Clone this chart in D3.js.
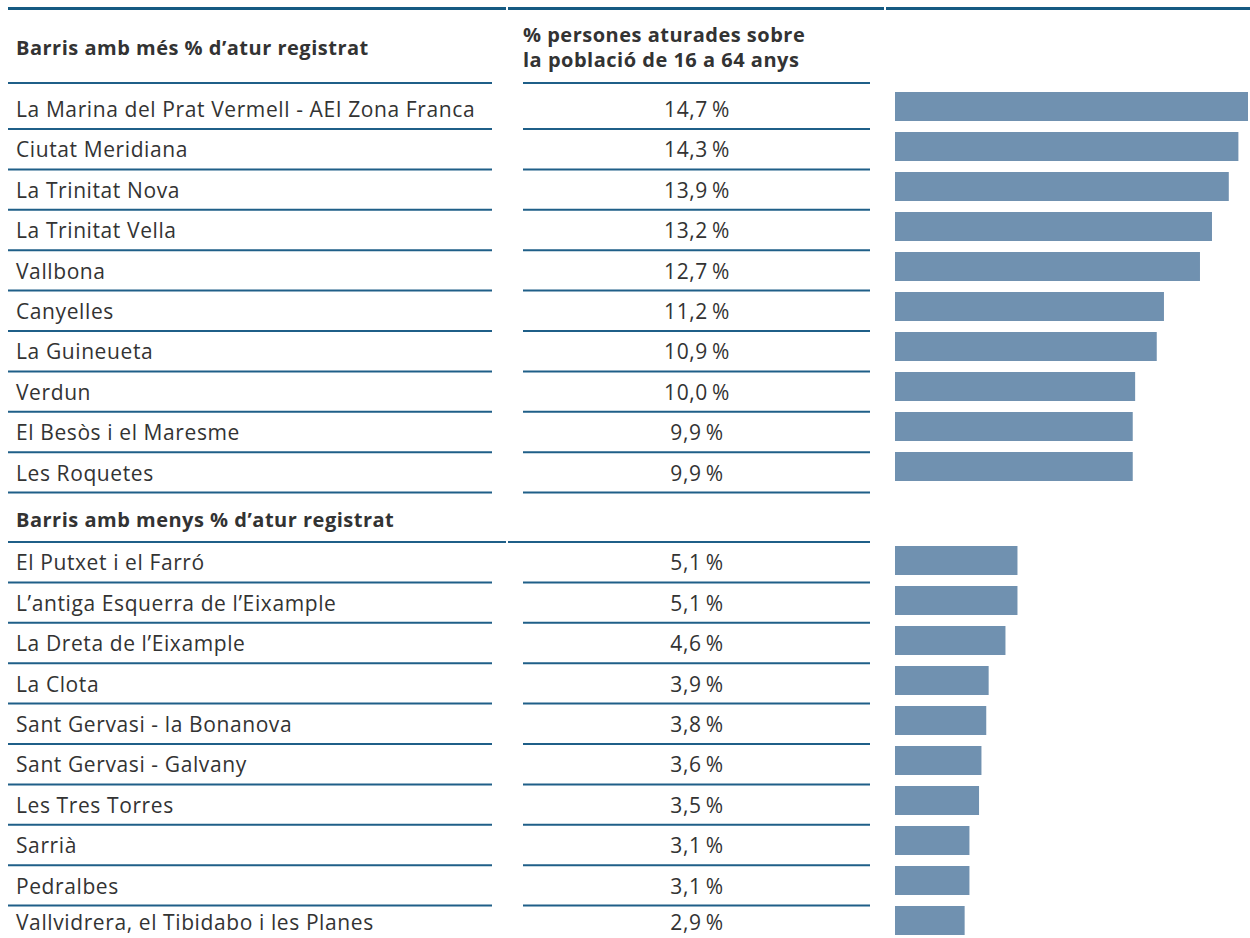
<!DOCTYPE html>
<html>
<head>
<meta charset="utf-8">
<script src="https://cdn.jsdelivr.net/npm/d3@7"></script>
<style>
  body { margin: 0; background: #fff; }
  text { font-family: "Open Sans", "DejaVu Sans", sans-serif; fill: #333; }
</style>
</head>
<body>
<div id="grafica"></div>
<script>
// barris amb mes atur
var topNames = ["La Marina del Prat Vermell - AEI Zona Franca", "Ciutat Meridiana", "La Trinitat Nova",
  "La Trinitat Vella", "Vallbona", "Canyelles", "La Guineueta", "Verdun", "El Besòs i el Maresme", "Les Roquetes"];
var topValues = [14.7, 14.3, 13.9, 13.2, 12.7, 11.2, 10.9, 10.0, 9.9, 9.9];

// barris amb menys atur
var bottomNames = ["El Putxet i el Farró", "L’antiga Esquerra de l’Eixample", "La Dreta de l’Eixample", "La Clota",
  "Sant Gervasi - la Bonanova", "Sant Gervasi - Galvany", "Les Tres Torres", "Sarrià", "Pedralbes",
  "Vallvidrera, el Tibidabo i les Planes"];
var bottomValues = [5.1, 5.1, 4.6, 3.9, 3.8, 3.6, 3.5, 3.1, 3.1, 2.9];

var header1 = "Barris amb més % d’atur registrat";
var header2 = ["% persones aturades sobre", "la població de 16 a 64 anys"];
var header3 = "Barris amb menys % d’atur registrat";

var width = 1250, height = 938;
var lineColor = "#1f5f88", barColor = "#7091b0";
var rowStep = 40.4;

var svg = d3.select("#grafica").append("svg")
  .attr("width", width)
  .attr("height", height);

var fmt = function(v) { return d3.format(".1f")(v).replace(".", ",") + "\u2009%"; };

var x = d3.scaleLinear().domain([0, 14.7]).range([895, 1248]);

// barres: pas de 40px, alcada 29px
var yTop = d3.scaleBand().domain(topNames).range([92, 481]).paddingInner(0.275).paddingOuter(0);
var yBottom = d3.scaleBand().domain(bottomNames).range([546, 935]).paddingInner(0.275).paddingOuter(0);

// linia superior
[[8, 506], [508, 884], [886, 1250]].forEach(function(s) {
  svg.append("line")
    .attr("x1", s[0]).attr("x2", s[1]).attr("y1", 8.5).attr("y2", 8.5)
    .attr("stroke", "#155a82").attr("stroke-width", 3);
});

function rowLine(y, full) {
  var segs = full ? [[8, 506], [508, 870]] : [[8, 492], [523, 870]];
  segs.forEach(function(s) {
    svg.append("line")
      .attr("x1", s[0]).attr("x2", s[1]).attr("y1", y).attr("y2", y)
      .attr("stroke", lineColor).attr("stroke-width", 2);
  });
}

function label(x0, y0, t, bold, anchor) {
  return svg.append("text").attr("x", x0).attr("y", y0)
    .attr("text-anchor", anchor || "start")
    .style("font-size", bold ? "20px" : "21px")
    .style("font-weight", bold ? "bold" : "normal")
    .style("letter-spacing", bold ? "0.5px" : "0.6px")
    .text(t);
}

// capcaleres
label(16, 55, header1, true);
header2.forEach(function(t, i) { label(523, 42 + i * 25, t, true); });
rowLine(83, false);

// seccio superior
var topLines = [129];
topNames.forEach(function(n, i) { if (i > 0) topLines.push(129 + rowStep * i); });

topNames.forEach(function(n, i) {
  var bottom = topLines[i];
  rowLine(bottom, false);
  label(16, bottom - 12, n, false);
  label(697, bottom - 12, fmt(topValues[i]), false, "middle");
});

svg.append("g").selectAll("rect")
  .data(topValues)
  .enter().append("rect")
  .attr("x", x(0))
  .attr("y", function(d, i) { return yTop(topNames[i]); })
  .attr("width", function(d) { return x(d) - x(0); })
  .attr("height", yTop.bandwidth())
  .attr("fill", barColor);

// seccio inferior
label(16, 527, header3, true);
rowLine(542, true);

bottomNames.forEach(function(n, i) {
  var bottom = 542 + rowStep * (i + 1);
  if (i < bottomNames.length - 1) rowLine(bottom, false);
  var ty = Math.min(bottom - 12, 930);
  label(16, ty, n, false);
  label(697, ty, fmt(bottomValues[i]), false, "middle");
});

svg.append("g").selectAll("rect")
  .data(bottomValues)
  .enter().append("rect")
  .attr("x", x(0))
  .attr("y", function(d, i) { return yBottom(bottomNames[i]); })
  .attr("width", function(d) { return x(d) - x(0); })
  .attr("height", yBottom.bandwidth())
  .attr("fill", barColor);
</script>
</body>
</html>
